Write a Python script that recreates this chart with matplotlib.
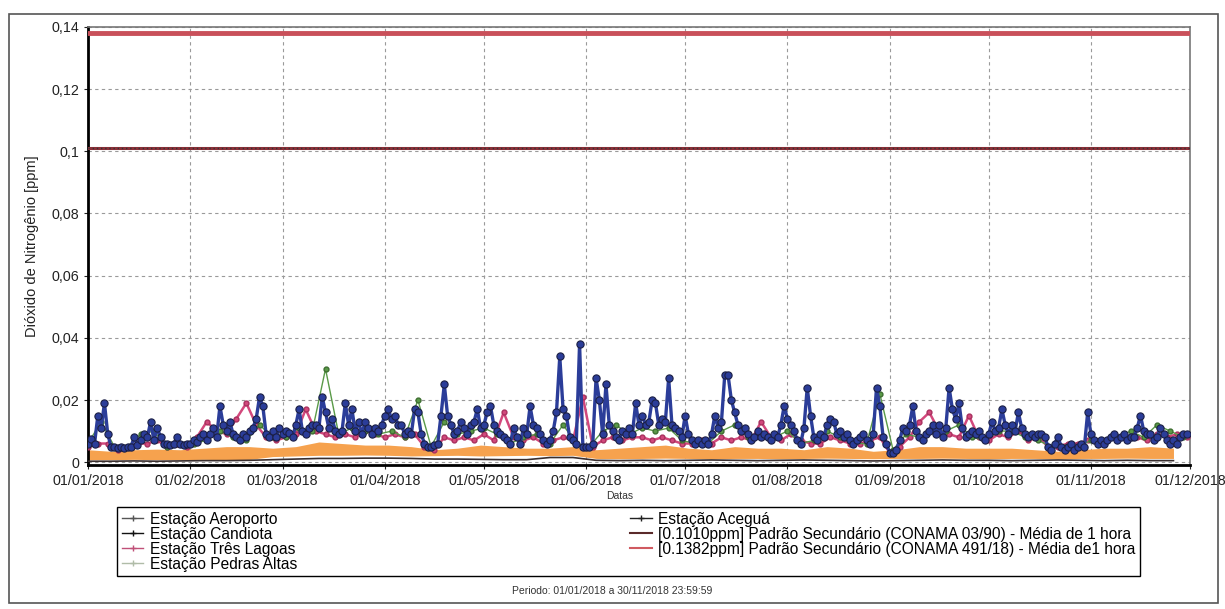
import matplotlib
matplotlib.use('Agg')
import matplotlib.pyplot as plt
import matplotlib.dates as mdates
from matplotlib.lines import Line2D
from matplotlib.patches import Rectangle
import pandas as pd

plt.rcParams['font.family'] = ['Liberation Sans', 'DejaVu Sans']

# daily values, Estação Aceguá (blue), one list per month
acegua_jan = [0.006, 0.0075, 0.006, 0.015, 0.011, 0.019, 0.009, 0.005, 0.005, 0.0045, 0.005, 0.0045, 0.005, 0.0048,
              0.008, 0.0055, 0.007, 0.009, 0.008, 0.013, 0.007, 0.011, 0.008, 0.006, 0.006, 0.0055, 0.006, 0.008,
              0.006, 0.0055, 0.006]
acegua_feb = [0.006, 0.007, 0.0065, 0.008, 0.009, 0.007, 0.009, 0.011, 0.008, 0.018, 0.012, 0.010, 0.013, 0.009,
              0.008, 0.007, 0.009, 0.008, 0.010, 0.011, 0.014, 0.021, 0.018, 0.009, 0.008, 0.010, 0.008, 0.011]
acegua_mar = [0.009, 0.010, 0.0095, 0.008, 0.012, 0.017, 0.010, 0.009, 0.011, 0.012, 0.012, 0.011, 0.021, 0.016,
              0.011, 0.014, 0.010, 0.009, 0.010, 0.019, 0.012, 0.017, 0.010, 0.013, 0.009, 0.013, 0.011, 0.009,
              0.011, 0.010, 0.012]
acegua_apr = [0.015, 0.017, 0.014, 0.015, 0.012, 0.012, 0.009, 0.010, 0.009, 0.017, 0.016, 0.009, 0.006, 0.005,
              0.005, 0.0055, 0.006, 0.015, 0.025, 0.015, 0.012, 0.009, 0.010, 0.013, 0.011, 0.009, 0.012, 0.013,
              0.017, 0.011]
acegua_may = [0.012, 0.016, 0.018, 0.012, 0.010, 0.009, 0.008, 0.007, 0.006, 0.011, 0.008, 0.006, 0.011, 0.009,
              0.018, 0.012, 0.011, 0.009, 0.007, 0.006, 0.007, 0.010, 0.016, 0.034, 0.017, 0.015, 0.008, 0.007,
              0.006, 0.038, 0.005]
acegua_jun = [0.005, 0.005, 0.006, 0.027, 0.020, 0.009, 0.025, 0.012, 0.010, 0.008, 0.007, 0.010, 0.009, 0.011,
              0.009, 0.019, 0.012, 0.015, 0.012, 0.013, 0.020, 0.019, 0.012, 0.014, 0.013, 0.027, 0.012, 0.011,
              0.010, 0.008]
acegua_jul = [0.015, 0.009, 0.007, 0.006, 0.007, 0.006, 0.007, 0.006, 0.009, 0.015, 0.011, 0.013, 0.028, 0.028,
              0.020, 0.016, 0.012, 0.010, 0.011, 0.009, 0.007, 0.008, 0.010, 0.008, 0.009, 0.008, 0.007, 0.009,
              0.008, 0.012, 0.018]
acegua_aug = [0.014, 0.012, 0.010, 0.007, 0.006, 0.011, 0.024, 0.015, 0.008, 0.007, 0.009, 0.008, 0.012, 0.014,
              0.013, 0.009, 0.010, 0.008, 0.009, 0.007, 0.006, 0.007, 0.008, 0.009, 0.007, 0.006, 0.009, 0.024,
              0.018, 0.008, 0.006]
acegua_sep = [0.003, 0.003, 0.004, 0.007, 0.011, 0.010, 0.012, 0.018, 0.010, 0.008, 0.007, 0.009, 0.010, 0.012,
              0.009, 0.012, 0.008, 0.011, 0.024, 0.017, 0.014, 0.019, 0.011, 0.008, 0.009, 0.010, 0.009, 0.010,
              0.008, 0.007]
acegua_oct = [0.009, 0.013, 0.010, 0.011, 0.017, 0.012, 0.009, 0.012, 0.010, 0.016, 0.011, 0.009, 0.008, 0.009,
              0.008, 0.009, 0.009, 0.008, 0.005, 0.004, 0.006, 0.008, 0.005, 0.004, 0.005, 0.006, 0.004, 0.005,
              0.006, 0.005, 0.016]
acegua_nov = [0.009, 0.007, 0.006, 0.007, 0.006, 0.007, 0.008, 0.009, 0.007, 0.008, 0.009, 0.007, 0.008, 0.008,
              0.011, 0.015, 0.010, 0.009, 0.009, 0.007, 0.008, 0.011, 0.009, 0.007, 0.006, 0.007, 0.006, 0.008,
              0.009, 0.009]

# every 3 days, Estação Três Lagoas (pink)
tres_lagoas = [0.005, 0.006, 0.006, 0.004, 0.005, 0.006, 0.006, 0.007, 0.005, 0.006, 0.005,
               0.008, 0.013, 0.010, 0.009, 0.014, 0.019, 0.012, 0.008, 0.007,
               0.008, 0.009, 0.017, 0.010, 0.009, 0.008, 0.009, 0.008, 0.010, 0.009,
               0.008, 0.009, 0.008, 0.009, 0.005, 0.004, 0.008, 0.007, 0.008, 0.007,
               0.009, 0.007, 0.016, 0.008, 0.007, 0.008, 0.006, 0.007, 0.008, 0.007, 0.021,
               0.005, 0.007, 0.008, 0.007, 0.008, 0.008, 0.007, 0.008, 0.007, 0.006,
               0.006, 0.007, 0.006, 0.008, 0.007, 0.008, 0.007, 0.013, 0.008, 0.007,
               0.009, 0.007, 0.006, 0.006, 0.008, 0.007, 0.006, 0.006, 0.007, 0.008,
               0.003, 0.005, 0.008, 0.013, 0.016, 0.010, 0.009, 0.008, 0.015, 0.008,
               0.007, 0.009, 0.008, 0.010, 0.007, 0.008, 0.005, 0.005, 0.006, 0.006, 0.007,
               0.006, 0.007, 0.008, 0.007, 0.008, 0.007, 0.009, 0.008, 0.009, 0.008]

# every 4 days, Estação Pedras Altas (green)
pedras_altas = [0.006, 0.013, 0.005, 0.005, 0.009, 0.010, 0.005, 0.006,
                0.006, 0.007, 0.010, 0.008, 0.007, 0.012, 0.008,
                0.008, 0.011, 0.010, 0.030, 0.009, 0.011, 0.010, 0.009,
                0.010, 0.008, 0.020, 0.005, 0.013, 0.009, 0.010,
                0.011, 0.009, 0.006, 0.008, 0.009, 0.006, 0.012, 0.006,
                0.005, 0.010, 0.012, 0.009, 0.011, 0.010, 0.011, 0.007,
                0.006, 0.006, 0.010, 0.012, 0.008, 0.008, 0.008,
                0.010, 0.006, 0.007, 0.010, 0.008, 0.006, 0.006, 0.022,
                0.004, 0.009, 0.008, 0.010, 0.010, 0.012, 0.008, 0.007,
                0.010, 0.010, 0.008, 0.007, 0.005, 0.005, 0.005,
                0.007, 0.006, 0.008, 0.010, 0.008, 0.012, 0.010, 0.008]

# weekly band, Estação Aeroporto (orange)
aeroporto_high = [0.004, 0.0035, 0.004, 0.0042, 0.004, 0.0045, 0.005, 0.005, 0.0045, 0.005,
                  0.0065, 0.006, 0.0055, 0.0055, 0.005, 0.004, 0.0045, 0.0055, 0.005, 0.0045,
                  0.0045, 0.005, 0.004, 0.0045, 0.005, 0.0055, 0.0045, 0.004, 0.005, 0.0045,
                  0.0045, 0.004, 0.005, 0.0045, 0.0035, 0.004, 0.005, 0.005, 0.0045, 0.0045,
                  0.0045, 0.004, 0.0035, 0.004, 0.0045, 0.0045, 0.005, 0.0045]
aeroporto_low = [0.0008, 0.0008, 0.0009, 0.0008, 0.0008, 0.0009, 0.0008, 0.0009,
                 0.0018, 0.002, 0.0022, 0.0022, 0.0023, 0.0022, 0.002, 0.0021, 0.0022, 0.002, 0.0021, 0.0022,
                 0.0021, 0.0022,
                 0.0012, 0.0011, 0.0012, 0.0013, 0.0012, 0.0011, 0.0012, 0.0012, 0.0011, 0.0012,
                 0.0013, 0.0012, 0.0011, 0.0012, 0.0012, 0.0013, 0.0012, 0.0011, 0.0012, 0.0012,
                 0.0011, 0.0012, 0.0012, 0.0013, 0.0012, 0.0012]

# weekly, Estação Candiota (near zero)
candiota = [0.0003, 0.0003, 0.0004, 0.0003, 0.0004, 0.0005, 0.0005, 0.0006,
            0.0008, 0.001, 0.0012, 0.0012, 0.0013, 0.0013, 0.0012, 0.001, 0.001, 0.0009, 0.0008, 0.0008,
            0.0015, 0.0015,
            0.0006, 0.0005, 0.0006, 0.0005, 0.0006, 0.0007, 0.0006, 0.0005, 0.0006, 0.0007,
            0.0006, 0.0005, 0.0004, 0.0005, 0.0006, 0.0007, 0.0006, 0.0006, 0.0005, 0.0006,
            0.0007, 0.0006, 0.0005, 0.0006, 0.0005, 0.0005]

std_conama_0390 = 0.1010
std_conama_49118 = 0.1382

acegua = (acegua_jan + acegua_feb + acegua_mar + acegua_apr + acegua_may + acegua_jun +
          acegua_jul + acegua_aug + acegua_sep + acegua_oct + acegua_nov)
d_acegua = pd.date_range('2018-01-01', periods=len(acegua), freq='D')
d_tres = pd.date_range('2018-01-01', periods=len(tres_lagoas), freq='3D')
d_pedras = pd.date_range('2018-01-01', periods=len(pedras_altas), freq='4D')
d_week = pd.date_range('2018-01-01', periods=len(aeroporto_high), freq='7D')

fig = plt.figure(figsize=(12.25, 6.09), dpi=100)
ax = fig.add_axes([0.0718, 0.2365, 0.8996, 0.7192])

ax.fill_between(d_week, aeroporto_low, aeroporto_high, color='#f6a24e', lw=0, zorder=2)
ax.plot(d_week, candiota, color='#3a2f2f', lw=1.2, zorder=3)
ax.plot(d_tres, tres_lagoas, color='#d2487c', lw=1.8, marker='o', ms=3.5, mec='#a8305e', zorder=4)
ax.plot(d_pedras, pedras_altas, color='#5a9a48', lw=1.0, marker='o', ms=3.5, mec='#3e6e30', zorder=4)
ax.plot(d_acegua, acegua, color='#2b3d99', lw=2.4, marker='o', ms=5.2, mfc='#2b3d99', mec='#1b1f45',
        mew=0.8, zorder=5)

ax.axhline(std_conama_0390, color='#8a3038', lw=2.2, zorder=6)
ax.axhline(std_conama_0390, color='#333333', lw=1.0, ls=(0, (1, 2)), zorder=7)
ax.axhline(std_conama_49118, color='#c9505a', lw=3.5, zorder=6)

ax.set_xlim(pd.Timestamp('2018-01-01'), pd.Timestamp('2018-12-01'))
ax.set_ylim(-0.0009, 0.14)
ax.xaxis.set_major_locator(mdates.MonthLocator())
ax.xaxis.set_major_formatter(mdates.DateFormatter('%d/%m/%Y'))
yt = [0, 0.02, 0.04, 0.06, 0.08, 0.1, 0.12, 0.14]
ax.set_yticks(yt)
ax.set_yticklabels(['0', '0,02', '0,04', '0,06', '0,08', '0,1', '0,12', '0,14'])
ax.tick_params(labelsize=10.3, colors='#222222', length=3)
ax.grid(True, color='#9a9a9a', lw=0.8, ls=(0, (3, 3)))
ax.set_axisbelow(True)
for s in ['left', 'bottom']:
    ax.spines[s].set_linewidth(2)
    ax.spines[s].set_color('black')
for s in ['top', 'right']:
    ax.spines[s].set_linewidth(1.2)
    ax.spines[s].set_color('#777777')

ax.set_ylabel('Dióxido de Nitrogênio [ppm]', fontsize=10.5, color='#222222')
ax.yaxis.set_label_coords(-0.044, 0.5)

fig.text(620 / 1225, 1 - 496 / 609, 'Datas', fontsize=7.5, ha='center', va='center', color='#333333')
fig.text(612 / 1225, 1 - 591 / 609, 'Periodo: 01/01/2018 a 30/11/2018 23:59:59', fontsize=7.5,
         ha='center', va='center', color='#333333')

handles = [
    Line2D([], [], color='#555555', lw=1, marker='+', ms=4),
    Line2D([], [], color='#111111', lw=1, marker='+', ms=4),
    Line2D([], [], color='#c05078', lw=1, marker='+', ms=4),
    Line2D([], [], color='#b0bca8', lw=1, marker='+', ms=4),
    Line2D([], [], color='#222222', lw=1, marker='+', ms=4),
    Line2D([], [], color='#5a2a2a', lw=1.5),
    Line2D([], [], color='#d05a60', lw=1.5),
]
labels = ['Estação Aeroporto', 'Estação Candiota', 'Estação Três Lagoas', 'Estação Pedras Altas',
          'Estação Aceguá', '[0.1010ppm] Padrão Secundário (CONAMA 03/90) - Média de 1 hora',
          '[0.1382ppm] Padrão Secundário (CONAMA 491/18) - Média de1 hora']
leg = fig.legend(handles, labels, loc='upper left', ncol=2, mode='expand',
                 bbox_to_anchor=(117 / 1225, 1 - 584 / 609, (1140 - 117) / 1225, (584 - 507) / 609),
                 fontsize=11.2, frameon=True, fancybox=False, edgecolor='black', framealpha=1,
                 handlelength=1.4, handletextpad=0.4, labelspacing=0.0, borderpad=0.3, borderaxespad=0)
leg.get_frame().set_linewidth(1.0)

fig.add_artist(Rectangle((9 / 1225, 1 - 603 / 609), (1218 - 9) / 1225, (603 - 14) / 609,
                         transform=fig.transFigure, fill=False, ec='#555555', lw=1.2))

fig.savefig('out.png', dpi=100)
